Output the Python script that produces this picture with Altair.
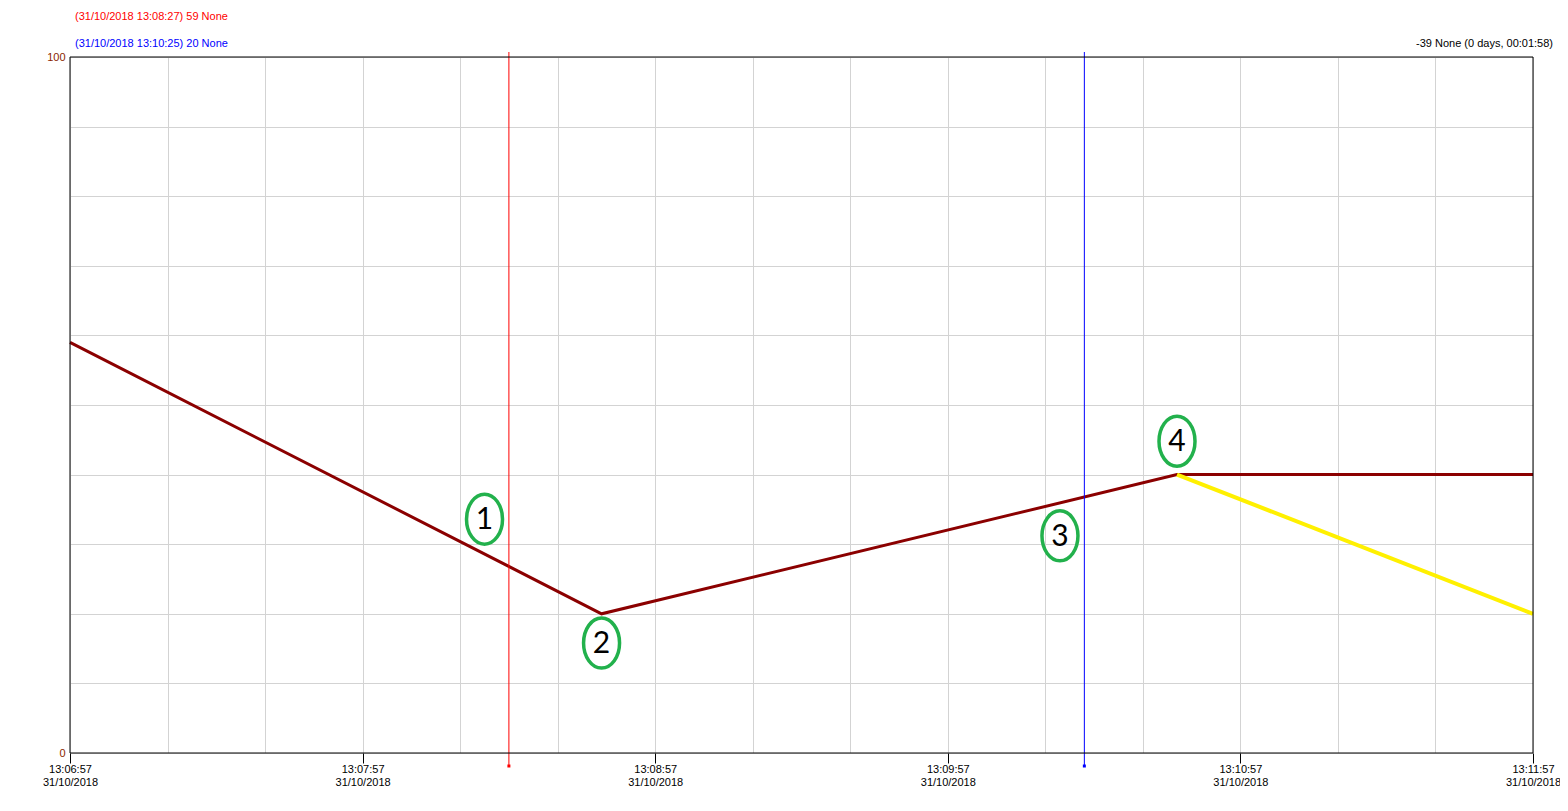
import altair as alt
import pandas as pd
from datetime import datetime, timezone

# ---- data ----
series_times = ["13:06:57", "13:08:46", "13:10:44", "13:11:57"]
series_values = [59, 20, 40, 40]
yellow_times = ["13:10:44", "13:11:57"]
yellow_values = [40, 20]
cursor_times = ["13:08:27", "13:10:25"]
cursor_colors = ["#FF0000", "#0000FF"]
note_labels = ["1", "2", "3", "4"]
note_times = ["13:08:22", "13:08:46", "13:10:20", "13:10:44"]
note_values = [33.6, 15.8, 31.2, 44.8]
header_red = "(31/10/2018 13:08:27) 59 None"
header_blue = "(31/10/2018 13:10:25) 20 None"
header_right = "-39 None (0 days, 00:01:58)"
DAY = "2018-10-31"
T0, T1 = "13:06:57", "13:11:57"

W, H = 1463, 696

def iso(t):
    return f"{DAY}T{t}Z"

def ms(t):
    d = datetime.fromisoformat(f"{DAY}T{t}").replace(tzinfo=timezone.utc)
    return int(d.timestamp() * 1000)

START, END = ms(T0), ms(T1)
x_ticks = list(range(START, END + 1, 20000))
y_ticks = list(range(0, 101, 10))

red_df = pd.DataFrame({"t": [iso(t) for t in series_times], "v": series_values})
yel_df = pd.DataFrame({"t": [iso(t) for t in yellow_times], "v": yellow_values})
cur_df = pd.DataFrame({"t": [iso(t) for t in cursor_times], "c": cursor_colors})
note_df = pd.DataFrame({"t": [iso(t) for t in note_times], "v": note_values, "lab": note_labels})

is_major = f"(time(datum.value) - {START}) % 60000 == 0"
xaxis = alt.Axis(
    values=x_ticks,
    grid=True,
    gridColor="#D3D3D3",
    gridWidth=1,
    domain=False,
    tickSize=10,
    tickColor="black",
    tickOpacity={"condition": {"test": is_major, "value": 1}, "value": 0},
    labelExpr=f"{is_major} ? [utcFormat(datum.value, '%H:%M:%S'), utcFormat(datum.value, '%d/%m/%Y')] : ''",
    labelFont="Liberation Sans",
    labelFontSize=11,
    labelColor="black",
    labelBaseline="top",
    labelLineHeight=13,
    labelPadding=0,
    labelOverlap=False,
    labelFlush=False,
    title=None,
)
yaxis = alt.Axis(
    values=y_ticks,
    grid=True,
    gridColor="#D3D3D3",
    gridWidth=1,
    domain=False,
    ticks=False,
    labelExpr="datum.value == 0 || datum.value == 100 ? datum.label : ''",
    labelFont="Liberation Sans",
    labelFontSize=11,
    labelColor="#8B2500",
    labelPadding=5,
    labelOverlap=False,
    labelFlush=False,
    title=None,
)
xscale = alt.Scale(type="utc", domain=[START, END], nice=False)
yscale = alt.Scale(domain=[0, 100], nice=False, zero=False)
X = alt.X("t:T", scale=xscale, axis=xaxis)
Y = alt.Y("v:Q", scale=yscale, axis=yaxis)

red_line = alt.Chart(red_df).mark_line(color="#8B0000", strokeWidth=3).encode(x=X, y=Y)
yel_line = alt.Chart(yel_df).mark_line(color="#FFF000", strokeWidth=4).encode(x=X, y=Y)

cursors = alt.Chart(cur_df).mark_rule(strokeWidth=1).encode(
    x=X, y=alt.value(-5), y2=alt.value(709),
    color=alt.Color("c:N", scale=None),
)
cursor_dots = alt.Chart(cur_df).mark_square(size=9, opacity=1).encode(
    x=X, y=alt.value(709), color=alt.Color("c:N", scale=None),
)

ellipse_path = "M0,-1 A0.72,1 0 1,1 0,1 A0.72,1 0 1,1 0,-1 Z"
rings = alt.Chart(note_df).mark_point(
    shape=ellipse_path, size=2500, filled=False, stroke="#22B14C", strokeWidth=3.5, opacity=1
).encode(x=X, y=Y)
nums = alt.Chart(note_df).mark_text(
    font="Lato", fontSize=30, color="black", baseline="middle", align="center", dy=1
).encode(x=X, y=Y, text="lab:N")

h1 = alt.Chart(pd.DataFrame({"txt": [header_red]})).mark_text(
    font="Liberation Sans", fontSize=11, color="#FF0000", align="left", baseline="middle").encode(
    x=alt.value(5), y=alt.value(-40), text="txt:N")
h2 = alt.Chart(pd.DataFrame({"txt": [header_blue]})).mark_text(
    font="Liberation Sans", fontSize=11, color="#0000FF", align="left", baseline="middle").encode(
    x=alt.value(5), y=alt.value(-13), text="txt:N")
h3 = alt.Chart(pd.DataFrame({"txt": [header_right]})).mark_text(
    font="Liberation Sans", fontSize=11, color="black", align="right", baseline="middle").encode(
    x=alt.value(1483), y=alt.value(-13), text="txt:N")

frame = alt.Chart(pd.DataFrame({"f": [0]})).mark_rect(
    fillOpacity=0, stroke="black", strokeWidth=1
).encode(x=alt.value(0), x2=alt.value(W), y=alt.value(0), y2=alt.value(H))

chart = alt.layer(red_line, yel_line, cursors, cursor_dots, rings, nums, h1, h2, h3, frame).properties(
    width=W, height=H,
    autosize=alt.AutoSizeParams(type="none"),
    padding={"left": 62, "top": 49, "right": 27, "bottom": 40},
).configure_view(stroke=None).configure(background="white")

chart.save("out.html", embed_options={"renderer": "svg", "actions": False})
